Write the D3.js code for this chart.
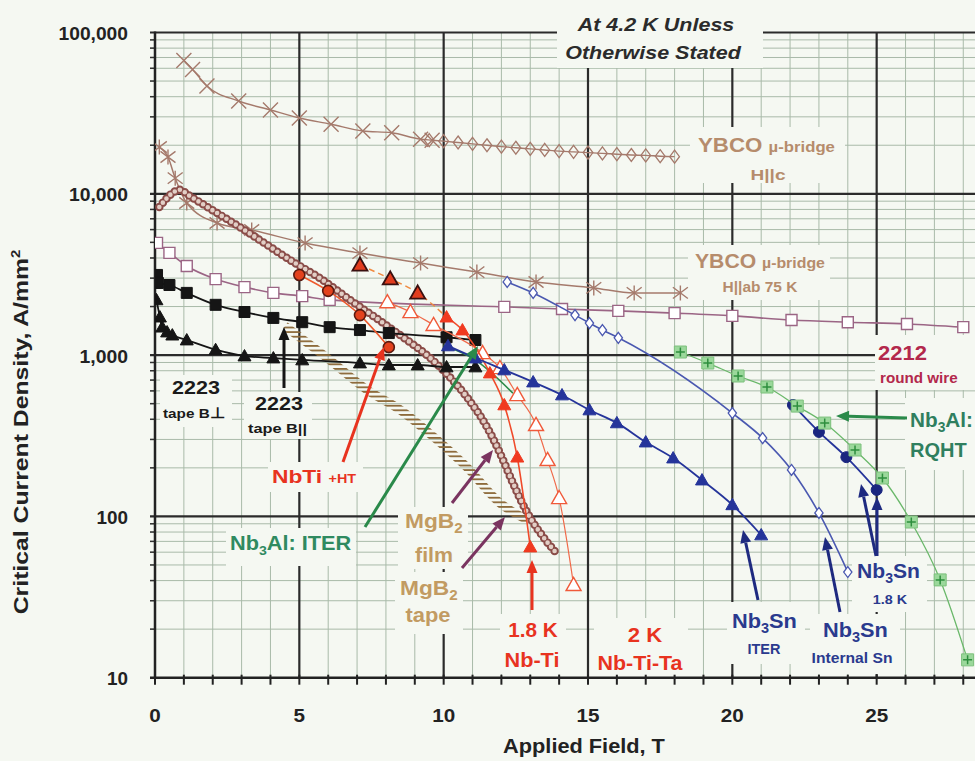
<!DOCTYPE html>
<html>
<head>
<meta charset="utf-8">
<script src="https://cdn.jsdelivr.net/npm/d3@7"></script>
<style>
body { margin: 0; background: #f5f8f2; }
text { font-family: "Liberation Sans", Arial, sans-serif; font-weight: bold; }
</style>
</head>
<body>
<div id="chart"></div>
<script>
// field (T), critical current density (A/mm2)
var ybcoHc = [[1.0,67000],[1.3,59000],[1.8,46600],[2.9,37600],[4.0,33100],[5.0,29500],[6.1,27000],[7.2,24500],[8.2,23900],[9.2,21800],[9.6,21500]];
var ybcoHcDiamond = [[9.5,21500],[10,21200],[10.5,20800],[11,20400],[11.5,20000],[12,19600],[12.5,19300],[13,19000],[13.5,18700],[14,18400],[14.5,18200],[15,18000],[15.5,17800],[16,17600],[16.5,17400],[17,17300],[17.5,17100],[18,17000]];
var ybcoHab = [[0.15,19500],[0.45,16900],[0.7,12500],[1.1,8770],[2.15,6590],[3.35,5960],[5.2,4950],[7.1,4290],[9.2,3720],[11.15,3270],[13.2,2840],[15.2,2610],[16.6,2430],[18.2,2430]];
var mgb2Film = [[0.15,8280],[0.35,9150],[0.6,10100],[0.85,10600],[1.2,9700],[2.0,7900],[3.1,5960],[4.85,3720],[5.7,3010],[6.75,2200],[8.05,1515],[10.0,800],[10.8,550],[11.5,358],[11.95,247],[12.4,161],[12.9,105],[13.45,74.5],[13.9,59.3]];
var mgb2Tape = [[4.5,1510],[6.05,933],[7.35,608],[8.5,457],[9.65,311],[10.8,202],[11.95,121],[12.9,95]];
var bscco2223Perp = [[0.05,2200],[0.17,1720],[0.25,1490],[0.42,1390],[0.6,1330],[1.1,1240],[2.1,1080],[3.1,987],[4.1,959],[5.1,933],[7.1,893],[8.1,868],[9.1,868],[10.1,844],[11.1,844]];
var bscco2223Par = [[0.07,3140],[0.1,2800],[0.5,2720],[1.1,2430],[2.1,2050],[3.1,1850],[4.1,1700],[5.1,1600],[6.05,1490],[7.1,1430],[8.1,1370],[10.1,1290],[11.1,1240]];
var bscco2212 = [[0.07,4960],[0.5,4300],[1.1,3570],[2.1,2960],[3.1,2640],[4.1,2430],[5.1,2320],[6.05,2200],[12.1,1990],[14.1,1930],[16.05,1880],[18,1820],[20,1750],[22.05,1650],[24,1600],[26.05,1560],[28,1490]];
var nbtiHT = [[5.0,3140],[6.0,2500],[7.1,1770],[8.1,1120]];
var nbti18Low = [[7.1,3620],[8.15,2970],[9.1,2430]];
var nbti18 = [[10.1,1720],[10.65,1430],[11.6,774],[12.1,491],[12.55,233],[13.0,64.6]];
var nbtiTa = [[8.05,2130],[8.85,1850],[9.65,1540],[11.35,1030],[11.95,832],[12.55,566],[13.2,369],[13.6,224],[14.0,130],[14.5,37.6]];
var nb3snITER = [[10.15,1140],[11.1,959],[12.1,809],[13.1,681],[14.1,566],[15.05,457],[16.0,380],[17.0,289],[17.95,230],[18.95,168],[20.0,118],[21.0,76.7]];
var nb3snInt = [[12.2,2840],[13.1,2430],[14.55,1770],[15.05,1580],[15.5,1430],[16.05,1280],[20.0,437],[21.05,306],[22.05,194],[23.0,105],[24.0,45.2]];
var nb3sn18 = [[22.1,491],[23.0,334],[23.95,233],[25.0,146]];
var nb3alRQHT = [[18.2,1045],[19.15,893],[20.2,742],[21.2,634],[22.25,483],[23.2,379],[24.25,258],[25.2,173],[26.2,92.3],[27.2,40.4],[28.15,12.9]];
var nb3alITER = [[10.0,1150],[11.1,930],[12.4,580]];

var xTicks = [0, 5, 10, 15, 20, 25];
var yTicks = [10, 100, 1000, 10000, 100000];

var width = 975, height = 761;
var bg = "#f5f8f2";
var svg = d3.select("#chart").append("svg")
    .attr("width", width)
    .attr("height", height);
svg.append("rect").attr("width", width).attr("height", height).attr("fill", bg);

var x = d3.scaleLinear().domain([0, 30]).range([155, 1021]);
var y = d3.scaleLog().domain([10, 100000]).range([677.7, 32.5]);
var x0 = x(0), y0 = y(10), yTop = y(100000);

var defs = svg.append("defs");
defs.append("clipPath").attr("id", "plot")
    .append("rect").attr("x", x0).attr("y", yTop - 10).attr("width", width - x0).attr("height", y0 - yTop + 10);
var hatch = defs.append("pattern").attr("id", "hatch")
    .attr("patternUnits", "userSpaceOnUse").attr("width", 20).attr("height", 4.6);
hatch.append("rect").attr("width", 20).attr("height", 1.8).attr("fill", "#8d6a3a");

// grid
var grid = svg.append("g");
d3.range(1, 30).forEach(function (t) {
    if (t % 5 == 0) return;
    grid.append("line").attr("x1", x(t)).attr("x2", x(t)).attr("y1", yTop).attr("y2", y0)
        .attr("stroke", "#a9baa9").attr("stroke-width", 1);
});
y.ticks().forEach(function (v) {
    if (yTicks.indexOf(v) >= 0) return;
    grid.append("line").attr("x1", x0 - 5).attr("x2", width).attr("y1", y(v)).attr("y2", y(v))
        .attr("stroke", "#a9baa9").attr("stroke-width", 1);
    grid.append("line").attr("x1", x0 - 5).attr("x2", x0).attr("y1", y(v)).attr("y2", y(v))
        .attr("stroke", "#333").attr("stroke-width", 1.5);
});
[5, 10, 15, 20, 25].forEach(function (t) {
    grid.append("line").attr("x1", x(t)).attr("x2", x(t)).attr("y1", yTop).attr("y2", y0)
        .attr("stroke", "#2b2b2b").attr("stroke-width", 2.2);
});
[100, 1000, 10000, 100000].forEach(function (v) {
    grid.append("line").attr("x1", x0 - 5).attr("x2", width).attr("y1", y(v)).attr("y2", y(v))
        .attr("stroke", "#2b2b2b").attr("stroke-width", 2.2);
});

// boxes behind labels hide the grid
var boxes = [[557,0,206,68],[690,127,155,56],[688,245,142,55],[875,335,100,55],[905,398,70,72],
    [852,556,75,56],[727,602,78,62],[810,614,90,60],[594,618,94,58],[500,614,66,60],
    [398,507,70,62],[395,572,68,62],[226,528,130,38],[268,462,95,30],[160,375,72,52],[244,392,68,47]];
boxes.forEach(function (b) {
    svg.append("rect").attr("x", b[0]).attr("y", b[1]).attr("width", b[2]).attr("height", b[3]).attr("fill", bg);
});

// axes
svg.append("line").attr("x1", x0).attr("x2", x0).attr("y1", yTop - 1).attr("y2", y0 + 1)
    .attr("stroke", "#222").attr("stroke-width", 2.5);
svg.append("line").attr("x1", x0 - 5).attr("x2", width).attr("y1", y0).attr("y2", y0)
    .attr("stroke", "#222").attr("stroke-width", 2.5);
d3.range(0, 29).forEach(function (t) {
    svg.append("line").attr("x1", x(t)).attr("x2", x(t)).attr("y1", y0 - 3).attr("y2", y0 + 7)
        .attr("stroke", "#222").attr("stroke-width", 2);
});

// text helper: segments [text, size, dy]
function addText(px, py, segs, o) {
    o = o || {};
    var t = svg.append("text")
        .attr("text-anchor", o.anchor || "start")
        .attr("fill", o.color || "#1a1a1a")
        .attr("font-style", o.italic ? "italic" : null);
    segs.forEach(function (s) {
        t.append("tspan").attr("font-size", s[1]).attr("dy", s[2] || 0).text(s[0]);
    });
    var sx = 1;
    if (o.width) sx = o.width / t.node().getBBox().width;
    t.attr("transform", "translate(" + px + "," + py + ")" + (o.rotate ? " rotate(" + o.rotate + ")" : "") + " scale(" + sx + ",1)");
    return t;
}

yTicks.forEach(function (v) {
    var s = d3.format(",")(v);
    addText(128, y(v) + 7.5, [[s, 19]], {anchor: "end", color: "#222", width: s.length * 10.5 + (s.indexOf(",") >= 0 ? -4 : 0)});
});
xTicks.forEach(function (t) {
    addText(x(t), 722, [[String(t), 18]], {anchor: "middle", color: "#222", width: String(t).length * 11.5});
});
addText(584, 753, [["Applied Field, T", 20]], {anchor: "middle", color: "#222", width: 162});
addText(28, 432, [["Critical Current Density, A/mm", 20], ["2", 12, -8]], {anchor: "middle", color: "#222", width: 365, rotate: -90});

// marker shapes
function mark(type, s) {
    if (type == "x") return "M" + (-s) + "," + (-s) + "L" + s + "," + s + "M" + (-s) + "," + s + "L" + s + "," + (-s);
    if (type == "ast") return "M" + (-s) + "," + (-s * 0.75) + "L" + s + "," + (s * 0.75) + "M" + (-s) + "," + (s * 0.75) + "L" + s + "," + (-s * 0.75) + "M0," + (-s) + "L0," + s;
    if (type == "diamond") return "M0," + (-s) + "L" + (s * 0.75) + ",0L0," + s + "L" + (-s * 0.75) + ",0Z";
    if (type == "tri") return "M0," + (-s) + "L" + s + "," + (s * 0.75) + "L" + (-s) + "," + (s * 0.75) + "Z";
    if (type == "square") return "M" + (-s) + "," + (-s) + "H" + s + "V" + s + "H" + (-s) + "Z";
    if (type == "circle") return "M" + (-s) + ",0A" + s + "," + s + " 0 1,0 " + s + ",0A" + s + "," + s + " 0 1,0 " + (-s) + ",0Z";
    if (type == "plus") return "M" + (-s) + ",0H" + s + "M0," + (-s) + "V" + s;
}

var plot = svg.append("g").attr("clip-path", "url(#plot)");
var lineGen = d3.line().x(function (d) { return x(d[0]); }).y(function (d) { return y(d[1]); }).curve(d3.curveMonotoneX);

function drawLine(data, stroke, w, dash) {
    plot.append("path").attr("d", lineGen(data)).attr("fill", "none")
        .attr("stroke", stroke).attr("stroke-width", w).attr("stroke-dasharray", dash || null);
}
function drawMarks(data, type, s, fill, stroke, sw) {
    plot.append("g").selectAll("path").data(data).join("path")
        .attr("transform", function (d) { return "translate(" + x(d[0]) + "," + y(d[1]) + ")"; })
        .attr("d", mark(type, s))
        .attr("fill", fill).attr("stroke", stroke).attr("stroke-width", sw);
}

var ybcoCol = "#a57a6c";
drawLine(ybcoHc.concat(ybcoHcDiamond.slice(1)), ybcoCol, 1.4);
drawMarks(ybcoHc, "x", 7.5, "none", ybcoCol, 1.4);
drawMarks(ybcoHcDiamond, "diamond", 6.5, "none", ybcoCol, 1.3);
drawLine(ybcoHab, ybcoCol, 1.5);
drawMarks(ybcoHab, "ast", 7.5, "none", ybcoCol, 1.4);

var col2212 = "#9b6585";
drawLine(bscco2212, col2212, 1.6);
drawMarks(bscco2212, "square", 5.5, "#fff", col2212, 1.4);

plot.append("path").attr("d", lineGen(mgb2Tape)).attr("fill", "none")
    .attr("stroke", "url(#hatch)").attr("stroke-width", 9);

plot.append("path").attr("d", lineGen(mgb2Film)).attr("fill", "none")
    .attr("stroke", "#8a4c48").attr("stroke-width", 8.5).attr("stroke-linecap", "round").attr("stroke-dasharray", "0 5.5");
plot.append("path").attr("d", lineGen(mgb2Film)).attr("fill", "none")
    .attr("stroke", "#e2cfc6").attr("stroke-width", 4.6).attr("stroke-linecap", "round").attr("stroke-dasharray", "0 5.5");

drawLine(bscco2223Par, "#151515", 1.8);
drawMarks(bscco2223Par, "square", 5.5, "#151515", "#151515", 1);
drawLine(bscco2223Perp, "#151515", 1.8);
drawMarks(bscco2223Perp, "tri", 6.5, "#151515", "#151515", 1);

drawLine(nb3alITER, "#2e8b4a", 1.6);

drawLine(nbtiHT, "#ee5a2e", 1.6);
drawMarks(nbtiHT, "circle", 5.5, "#e3421e", "#5a1a10", 1.6);
drawLine(nbti18Low.concat(nbti18.slice(0, 1)), "#f08a40", 1.5, "6,4");
drawMarks(nbti18Low, "tri", 7.5, "#e23c1e", "#3a1010", 1.8);
drawLine(nbtiTa, "#f06a4a", 1.2);
drawMarks(nbtiTa, "tri", 7.5, "#fff", "#f05a3a", 1.4);
drawLine(nbti18, "#f04a2a", 1.6);
drawMarks(nbti18, "tri", 6.5, "#f03a20", "#f03a20", 1);

var blue = "#25349a";
drawLine(nb3snInt, "#4a58b0", 1.6);
drawMarks(nb3snInt, "diamond", 5.5, "#fff", "#4a58b0", 1.3);
drawLine(nb3snITER, blue, 1.8);
drawMarks(nb3snITER, "tri", 6.5, blue, blue, 1);
drawLine(nb3sn18, blue, 1.8);
drawMarks(nb3sn18, "circle", 5.5, "#1a2680", "#1a2680", 1);

drawLine(nb3alRQHT, "#6ab86a", 1.3);
drawMarks(nb3alRQHT, "square", 6, "#9bd89b", "#7cc07c", 1);
drawMarks(nb3alRQHT, "plus", 4.5, "none", "#2e8e3e", 1.5);

// arrows
function arrow(x1, y1, x2, y2, color, w) {
    var a = Math.atan2(y2 - y1, x2 - x1), L = 13, hw = 5.5;
    var bx = x2 - L * Math.cos(a), by = y2 - L * Math.sin(a);
    svg.append("line").attr("x1", x1).attr("y1", y1).attr("x2", bx).attr("y2", by)
        .attr("stroke", color).attr("stroke-width", w || 3);
    svg.append("path").attr("fill", color)
        .attr("d", "M" + x2 + "," + y2 + "L" + (bx + hw * Math.sin(a)) + "," + (by - hw * Math.cos(a)) +
            "L" + (bx - hw * Math.sin(a)) + "," + (by + hw * Math.cos(a)) + "Z");
}
var red = "#e8331f", navy = "#1e2a80", green = "#2a8a4a", purple = "#7a3460";
arrow(284, 388, 284, 327, "#151515");
arrow(343, 462, 384, 347, red);
arrow(365, 527, 478, 346, green);
arrow(452, 503, 493, 450, purple);
arrow(462, 568, 505, 517, purple);
arrow(532, 610, 532, 560, red);
arrow(758, 600, 743, 530, navy);
arrow(840, 612, 825, 537, navy);
arrow(876, 556, 861, 484, navy);
arrow(877, 556, 877, 497, navy);
arrow(907, 418, 836, 416, green);

// labels
var tan = "#b68c6c", mg = "#c29b62", snCol = "#2a3a8e", alCol = "#2f7f5f";
addText(656, 31, [["At 4.2 K Unless", 18]], {anchor: "middle", italic: true, color: "#2b2b2b", width: 158});
addText(653, 59, [["Otherwise Stated", 18]], {anchor: "middle", italic: true, color: "#2b2b2b", width: 177});
addText(698, 152, [["YBCO ", 20], ["\u00b5-bridge", 15]], {color: tan, width: 137});
addText(768, 180, [["H||c", 15]], {anchor: "middle", color: tan, width: 35});
addText(695, 268, [["YBCO ", 20], ["\u00b5-bridge", 15]], {color: tan, width: 130});
addText(760, 292, [["H||ab 75 K", 14]], {anchor: "middle", color: tan, width: 75});
addText(878, 360, [["2212", 21]], {color: "#b3284c", width: 49});
addText(880, 383, [["round wire", 14]], {color: "#b3284c", width: 78});
addText(910, 427, [["Nb", 21], ["3", 14, 5], ["Al:", 21, -5]], {color: alCol, width: 63});
addText(910, 457, [["RQHT", 21]], {color: alCol, width: 57});
addText(857, 578, [["Nb", 21], ["3", 14, 5], ["Sn", 21, -5]], {color: snCol, width: 63});
addText(890, 604, [["1.8 K", 13]], {anchor: "middle", color: snCol, width: 35});
addText(732, 628, [["Nb", 21], ["3", 14, 5], ["Sn", 21, -5]], {color: snCol, width: 65});
addText(764, 654, [["ITER", 14]], {anchor: "middle", color: snCol, width: 33});
addText(823, 637, [["Nb", 21], ["3", 14, 5], ["Sn", 21, -5]], {color: snCol, width: 65});
addText(852, 663, [["Internal Sn", 14]], {anchor: "middle", color: snCol, width: 81});
addText(645, 642, [["2 K", 20]], {anchor: "middle", color: red, width: 35});
addText(640, 670, [["Nb-Ti-Ta", 20]], {anchor: "middle", color: red, width: 86});
addText(533, 637, [["1.8 K", 20]], {anchor: "middle", color: red, width: 50});
addText(532, 667, [["Nb-Ti", 20]], {anchor: "middle", color: red, width: 55});
addText(405, 528, [["MgB", 21], ["2", 14, 5]], {color: mg, width: 58});
addText(434, 562, [["film", 21]], {anchor: "middle", color: mg, width: 38});
addText(400, 595, [["MgB", 21], ["2", 14, 5]], {color: mg, width: 58});
addText(428, 622, [["tape", 21]], {anchor: "middle", color: mg, width: 45});
addText(230, 550, [["Nb", 20], ["3", 13, 5], ["Al: ITER", 20, -5]], {color: "#2f8a60", width: 122});
addText(272, 483, [["NbTi ", 19], ["+HT", 12]], {color: red, width: 85});
addText(196, 394, [["2223", 19]], {anchor: "middle", width: 48});
addText(163, 418, [["tape B", 13], ["\u22a5", 15]], {width: 62});
addText(279, 410, [["2223", 19]], {anchor: "middle", width: 48});
addText(248, 433, [["tape B||", 13]], {width: 59});
</script>
</body>
</html>
